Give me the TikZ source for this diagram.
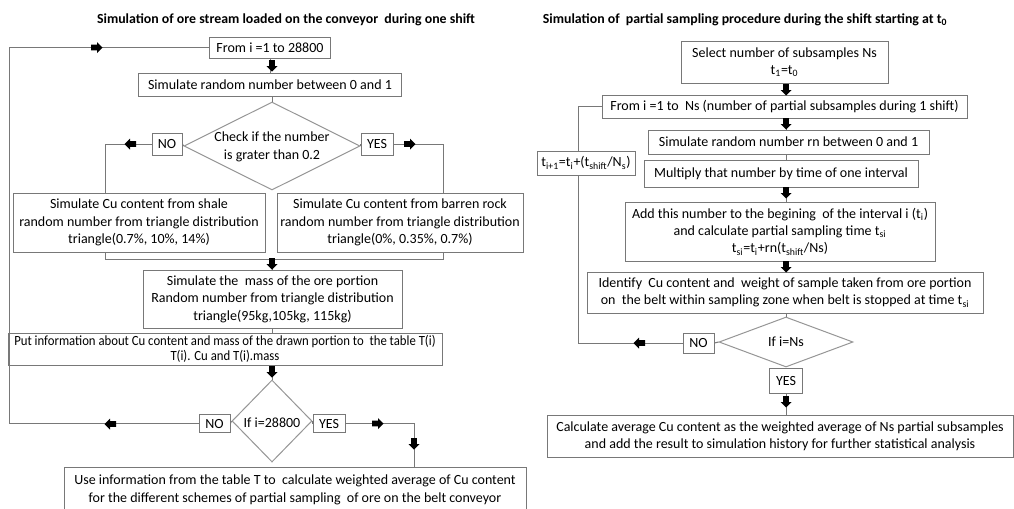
\documentclass[tikz,border=0pt]{standalone}
\usepackage{fontspec}
\setmainfont{Carlito}
\usetikzlibrary{shapes.geometric}
\definecolor{bordergray}{RGB}{120,120,120}
\definecolor{diagray}{RGB}{150,150,150}
\newcommand\bodyfont{\fontsize{10.5pt}{13.1pt}\selectfont}
\newcommand\titlefont{\fontsize{10.4pt}{12pt}\selectfont\bfseries}
\begin{document}
\begin{tikzpicture}[x=0.75pt,y=-0.75pt,
  box/.style={draw=bordergray, line width=0.75pt, fill=white, inner sep=0pt, align=center, font=\bodyfont},
  sz/.style 2 args={minimum width=#1*0.75pt, minimum height=#2*0.75pt},
  dia/.style={diamond, draw=diagray, line width=0.75pt, inner sep=0pt, fill=white},
  dtext/.style={inner sep=0pt, align=center, font=\bodyfont},
  conn/.style={draw=bordergray, line width=0.75pt},
  ttl/.style={font=\titlefont, inner sep=0pt},
  blk/.pic={\fill[black] (-6,-2.8) -- (0,-2.8) -- (0,-5.5) -- (5.5,0) -- (0,5.5) -- (0,2.8) -- (-6,2.8) -- cycle;}
]
\useasboundingbox (0,0) rectangle (1014,508);
\fill[white] (0,0) rectangle (1014,508);

% ---------------- left flowchart ----------------
\node[ttl] (t1) at (286,20) {Simulation of ore stream loaded on the conveyor\ \ during one shift};
\node[box, sz={121}{21}] (from1) at (270,47.5) {From i =1 to 28800};
\node[box, sz={263}{23}] (sim1) at (270,84.5) {Simulate random number between 0 and 1};
\node[dia, sz={176}{88}] (dia1) at (272,146) {};
\node[dtext] (dia1t) at (272,147) {Check if the number\\is grater than 0.2};
\node[box, sz={30}{22}] (no1) at (167,144) {NO};
\node[box, sz={32}{22}] (yes1) at (377,144) {YES};
\node[box, sz={252}{59}] (shale) at (139,222.5) {Simulate Cu content from shale\\random number from triangle distribution\\triangle(0.7\%, 10\%, 14\%)};
\node[box, sz={246}{59}] (barren) at (400,222.5) {Simulate Cu content from barren rock\\random number from triangle distribution\\triangle(0\%, 0.35\%, 0.7\%)};
\node[box, sz={259}{58}] (mass) at (272.5,299) {Simulate the\ \ mass of the ore portion\\Random number from triangle distribution\\triangle(95kg,105kg, 115kg)};
\node[box, sz={434}{31}] (put) at (225,349.5) {\scalebox{0.91}[1]{\begin{tabular}{@{}c@{}}Put information about Cu content and mass of the drawn portion to\ \ the table T(i)\\[-2pt]T(i). Cu and T(i).mass\end{tabular}}};
\node[dia, sz={80}{82}] (dia2) at (272,421) {};
\node[dtext] (dia2t) at (272,423) {If i=28800};
\node[box, sz={31}{18}] (no2) at (214.5,423.5) {NO};
\node[box, sz={32}{18}] (yes2) at (329,423.5) {YES};
\node[box, sz={462}{46}] (use) at (295,490) {Use information from the table T to\ \ calculate weighted average of Cu content\\for the different schemes of partial sampling\ \ of ore on the belt conveyor};

\coordinate (sTop) at (105,193);
\coordinate (bTop) at (443,193);
\coordinate (sBot) at (105,252);
\coordinate (bBot) at (443,252);
\coordinate (lb) at (9,424);
\coordinate (uTop) at (414,467);

\draw[conn] (from1) -- (sim1);
\draw[conn] (dia1.north |- sim1.south) -- (dia1.north);
\draw[conn] (dia1.west) -- (no1.east);
\draw[conn] (dia1.east) -- (yes1.west);
\draw[conn] (no1.west) -| (sTop);
\draw[conn] (yes1.east) -| (bTop);
\draw[conn] (sBot) -- ++(0,7) -| (bBot);
\draw[conn] (272,259) -- (mass.north -| 272,0);
\draw[conn] (mass.south) -- (mass.south |- put.north);
\draw[conn] (dia2.north |- put.south) -- (dia2.north);
\draw[conn] (dia2.west) -- (no2.east);
\draw[conn] (dia2.east) -- (yes2.west);
\draw[conn] (no2.west) -- (no2.west -| lb) |- (from1.west);
\draw[conn] (yes2.east) -| (uTop);

\pic[rotate=-90] at (272,66) {blk};
\pic[rotate=180] at (130,144) {blk};
\pic at (410,144) {blk};
\pic[rotate=-90] at (272,264) {blk};
\pic[rotate=-90] at (272,372) {blk};
\pic[rotate=180] at (110,424) {blk};
\pic at (97,47.5) {blk};
\pic at (378,423.5) {blk};
\pic[rotate=-90] at (414,444) {blk};

% ---------------- right flowchart ----------------
\node[ttl] (t2) at (745,20) {Simulation of\ \ partial sampling procedure during the shift starting at t\textsubscript{0}};
\node[box, sz={207}{42}] (sel) at (784.5,62) {Select number of subsamples Ns\\t\textsubscript{1}=t\textsubscript{0}};
\node[box, sz={365}{23}] (from2) at (784.5,106.5) {From i =1 to\ \ Ns (number of partial subsamples during 1 shift)};
\node[box, sz={281}{24}] (simrn) at (788.5,142) {Simulate random number rn between 0 and 1};
\node[box, sz={274}{27}] (mult) at (781,173.5) {Multiply that number by time of one interval};
\node[box, sz={310}{59}] (add) at (780,231.5) {Add this number to the begining\ \ of the interval i (t\textsubscript{i})\\and calculate partial sampling time t\textsubscript{si}\\t\textsubscript{si}=t\textsubscript{i}+rn(t\textsubscript{shift}/Ns)};
\node[box, sz={396}{41}] (ident) at (785,292.5) {Identify\ \ Cu content and\ \ weight of sample taken from ore portion\\on\ \ the belt within sampling zone when belt is stopped at time t\textsubscript{si}};
\node[dia, sz={134}{50}] (dia3) at (786,342) {};
\node[dtext] (dia3t) at (786,342) {If i=Ns};
\node[box, sz={31}{20}] (no3) at (698.5,343) {NO};
\node[box, sz={33}{25}] (yes3) at (786,380.5) {YES};
\node[box, sz={466}{42}] (calc) at (780,436) {Calculate average Cu content as the weighted average of Ns partial subsamples\\and add the result to simulation history for further statistical analysis};

\coordinate (rl) at (578,343);

\draw[conn] (sel.south -| dia3.north) -- (from2.north -| dia3.north);
\draw[conn] (from2.south -| dia3.north) -- (simrn.north -| dia3.north);
\draw[conn] (simrn.south -| dia3.north) -- (mult.north -| dia3.north);
\draw[conn] (mult.south -| dia3.north) -- (add.north -| dia3.north);
\draw[conn] (add.south -| dia3.north) -- (ident.north -| dia3.north);
\draw[conn] (ident.south -| dia3.north) -- (dia3.north);
\draw[conn] (dia3.west) -- (no3.east);
\draw[conn] (no3.west) -- (no3.west -| rl) |- (from2.west);
\draw[conn] (dia3.south) -- (yes3.north);
\draw[conn] (yes3.south) -- (calc.north -| yes3.south);

\node[box, sz={98}{24}] (tupd) at (586,163) {t\textsubscript{i+1}=t\textsubscript{i}+(t\textsubscript{shift}/N\textsubscript{s})};

\pic[rotate=-90] at (786,90) {blk};
\pic[rotate=-90] at (786,124) {blk};
\pic[rotate=-90] at (786,193) {blk};
\pic[rotate=-90] at (786,267) {blk};
\pic[rotate=180] at (639,343) {blk};
\pic[rotate=-90] at (786,402) {blk};
\end{tikzpicture}
\end{document}
